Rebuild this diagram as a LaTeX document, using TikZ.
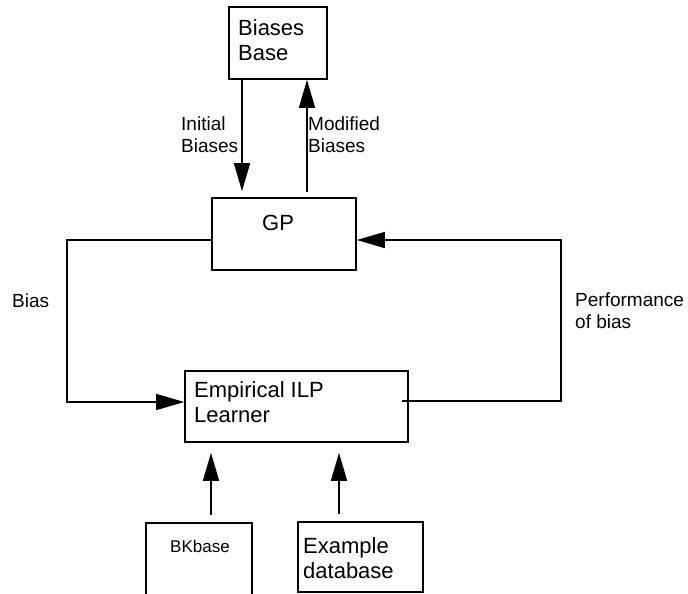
\documentclass[tikz,border=0pt]{standalone}
\usepackage{fontspec}
\setmainfont{Liberation Sans}
\usetikzlibrary{arrows.meta}
\begin{document}
\begin{tikzpicture}[x=1pt,y=-1pt,
 box/.style={draw,line width=1.6pt,inner sep=0pt},
 boxline/.style={line width=1.6pt},
 arr/.style={line width=1.5pt,-{Triangle[length=28pt,width=16pt]}},
 lbl/.style={font=\fontsize{19}{22}\selectfont,align=left,inner sep=0pt,anchor=base west},
 btxt/.style={font=\fontsize{22}{24.5}\selectfont,align=left,inner sep=0pt,anchor=base west},
]
\useasboundingbox (0,0) rectangle (688,594);
% boxes
\node[box,minimum width=98pt,minimum height=72pt] (bb) at (278,43) {};
\node[box,minimum width=144pt,minimum height=72pt] (gp) at (284,234) {};
\node[box,minimum width=223pt,minimum height=71pt] (ilp) at (296.5,406.5) {};
\node[box,minimum width=125pt,minimum height=70pt] (ex) at (360.5,557) {};
\node[inner sep=0pt,minimum width=106pt,minimum height=80pt] (bk) at (199,563) {};
\draw[boxline] (bk.south west) -- (bk.north west) -- (bk.north east) -- (bk.south east);
% box texts (base anchor = last line)
\node[btxt] (bbt) at (238,60) {Biases\\Base};
\node[btxt] (gpt) at (262,230) {GP};
\node[btxt] (ilpt) at (194,422) {Empirical ILP\\Learner};
\node[btxt] (ext) at (303,578) {Example\\database};
\node[btxt,font=\fontsize{17}{20}\selectfont] (bkt) at (170,552) {BKbase};
% labels
\node[lbl] (l1) at (181,152) {Initial\\Biases};
\node[lbl] (l2) at (308,152) {Modified\\Biases};
\node[lbl] (l3) at (12,307) {Bias};
\node[lbl] (l4) at (575,328) {Performance\\of bias};
% connectors
\draw[arr,shorten >=6pt] (bb.south -| 242,0) -- (gp.north -| 242,0);
\draw[arr,shorten <=5pt] (gp.north -| 307,0) -- (bb.south -| 307,0);
\draw[arr] (gp.west |- 0,240) -- (67,240) -- (67,402) -- (ilp.west |- 0,402);
\coordinate (pstart) at (402,401);
\draw[arr] (pstart) -- (561,401) -- (561,240) -- (gp.east |- 0,240);
\draw[arr,shorten <=8pt,shorten >=10pt] (bk.north -| 211,0) -- (ilp.south -| 211,0);
\draw[arr,shorten <=7pt,shorten >=10pt] (ex.north -| 339,0) -- (ilp.south -| 339,0);
\end{tikzpicture}
\end{document}
